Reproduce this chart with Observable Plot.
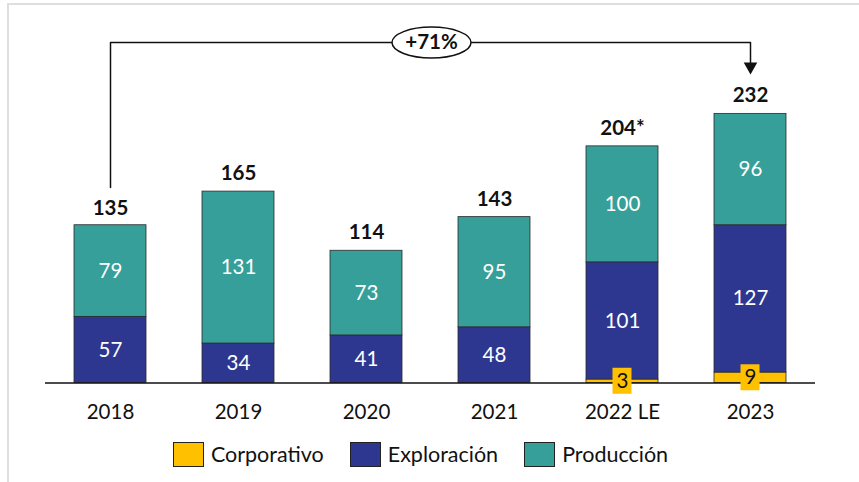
<!DOCTYPE html>
<html><head><meta charset="utf-8">
<script src="https://cdn.jsdelivr.net/npm/d3@7"></script>
<script src="https://cdn.jsdelivr.net/npm/@observablehq/plot@0.6"></script>
<style>
body{margin:0;background:#fff;font-family:Lato,"Open Sans",sans-serif;}
#wrap{position:relative;width:859px;height:482px;overflow:hidden;background:#fff;}
#frameL{position:absolute;left:7px;top:3px;width:2px;height:479px;background:#dedede;}
#frameT{position:absolute;left:7px;top:3px;width:852px;height:2px;background:#dedede;}
#chart{position:absolute;left:0;top:0;}
#legend{position:absolute;top:441px;left:-9px;width:859px;display:flex;justify-content:center;align-items:center;font-size:21.5px;color:#111;}
.item{display:flex;align-items:center;margin:0 13px;}
.sw{width:31px;height:25px;border:1px solid #222;margin-right:7px;box-sizing:border-box;}
</style></head>
<body>
<div id="wrap"><div id="frameL"></div><div id="frameT"></div><div id="chart"></div><div id="legend"></div></div>
<script>
const years = ["2018","2019","2020","2021","2022 LE","2023"];
const series = ["Corporativo","Exploración","Producción"];
const colors = ["#FFC000","#2E3790","#369F99"];
const corporativo = [0,0,0,0,3,9];
const exploracion = [57,34,41,48,101,127];
const produccion = [79,131,73,95,100,96];
const totalLabels = ["135","165","114","143","204*","232"];
const totals = [135,165,114,143,204,232];
const growthLabel = "+71%";

const seriesValues = [corporativo, exploracion, produccion];
const rows = [];
years.forEach((yr, i) => {
  let base = 0;
  seriesValues.forEach((vals, s) => {
    const v = vals[i];
    if (v > 0) rows.push({year: yr, series: series[s], value: v, y1: base, y2: base + v, mid: base + v / 2});
    base += v;
  });
});
const corpRows = rows.filter(d => d.series === "Corporativo");
const otherRows = rows.filter(d => d.series !== "Corporativo");
const totRows = years.map((yr, i) => ({year: yr, total: totals[i], label: totalLabels[i]}));

const arrowY = 293.5;
const arrowPath = [
  {x: years[0], y: totals[0] + 33.5},
  {x: years[0], y: arrowY},
  {x: years[5], y: arrowY},
  {x: years[5], y: 276}
];
const ellipse = {
  draw(ctx) {
    const rx = 39.5, ry = 15.5, k = 0.5523;
    ctx.moveTo(rx, 0);
    ctx.bezierCurveTo(rx, k * ry, k * rx, ry, 0, ry);
    ctx.bezierCurveTo(-k * rx, ry, -rx, k * ry, -rx, 0);
    ctx.bezierCurveTo(-rx, -k * ry, -k * rx, -ry, 0, -ry);
    ctx.bezierCurveTo(k * rx, -ry, rx, -k * ry, rx, 0);
    ctx.closePath();
  }
};

const chart = Plot.plot({
  width: 859, height: 430,
  marginLeft: 45, marginRight: 44, marginTop: 34.5, marginBottom: 47.5,
  style: {fontFamily: "Lato, 'Open Sans', sans-serif", background: "transparent", overflow: "visible"},
  x: {domain: years, paddingInner: 0.44, paddingOuter: 0.22, label: null},
  y: {domain: [0, 300], axis: null},
  color: {domain: series, range: colors},
  marks: [
    Plot.barY(rows, {x: "year", y1: "y1", y2: "y2", fill: "series", stroke: "#2a2a2a", strokeWidth: 0.8}),
    Plot.ruleY([0], {stroke: "#111", strokeWidth: 1.5}),
    Plot.text(otherRows, {x: "year", y: "mid", text: d => String(d.value), fill: "white", fontSize: 20.5}),
    Plot.barY(corpRows, {x: "year", y1: d => d.mid - 11.2, y2: d => d.mid + 11.2, fill: "#FFC000", insetLeft: 26.5, insetRight: 26.5}),
    Plot.text(corpRows, {x: "year", y: "mid", text: d => String(d.value), fill: "#111", fontSize: 20.5}),
    Plot.text(totRows, {x: "year", y: "total", text: "label", dy: -18, fontSize: 20.5, fontWeight: "bold", fill: "#111"}),
    Plot.line(arrowPath, {x: "x", y: "y", stroke: "#111", strokeWidth: 1.5, curve: "linear"}),
    Plot.dot([{x: years[5], y: 272.8}], {x: "x", y: "y", symbol: "triangle2", r: 6.5, fill: "#111", rotate: 180}),
    Plot.dot([{x: years[2], y: arrowY}], {x: "x", y: "y", symbol: ellipse, dx: 65, fill: "white", stroke: "#111", strokeWidth: 1.5}),
    Plot.text([{x: years[2], y: arrowY}], {x: "x", y: "y", text: () => growthLabel, dx: 65, fontSize: 20.5, fontWeight: "bold", fill: "#111"}),
    Plot.axisX({tickSize: 0, tickPadding: 21, fontSize: 20.5, color: "#111", label: null})
  ]
});
document.getElementById("chart").appendChild(chart);

const legend = document.getElementById("legend");
series.forEach((s, i) => {
  const it = document.createElement("div"); it.className = "item";
  const sw = document.createElement("div"); sw.className = "sw"; sw.style.background = colors[i];
  const t = document.createElement("span"); t.textContent = s;
  it.appendChild(sw); it.appendChild(t); legend.appendChild(it);
});
</script>
</body></html>
